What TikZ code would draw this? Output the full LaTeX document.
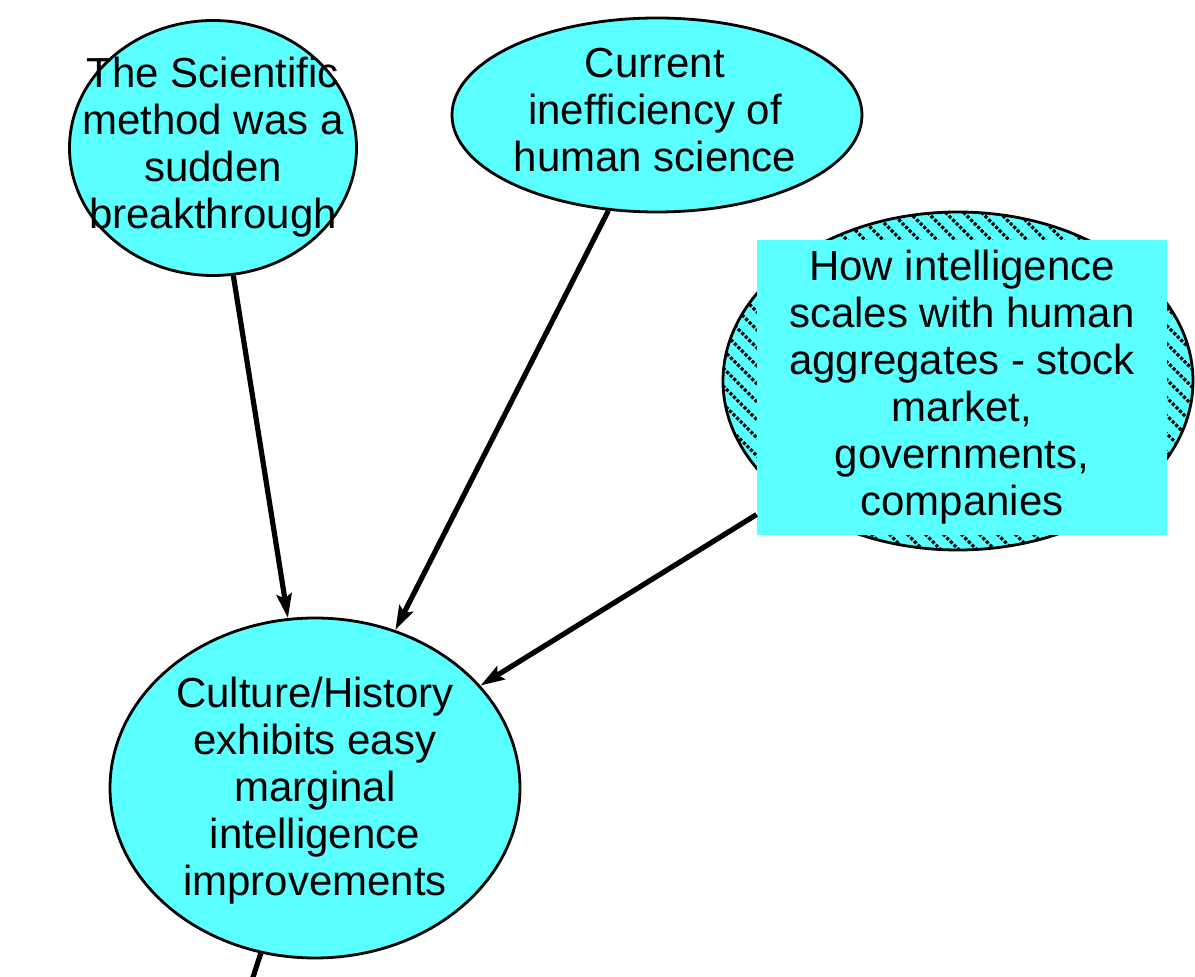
\documentclass[tikz,border=0pt]{standalone}
\usepackage{fontspec}
\setmainfont{Liberation Sans}
\usepackage{xcolor}
\usepackage{tikz}
\usetikzlibrary{shapes.geometric,arrows.meta}

\definecolor{blobcyan}{RGB}{90,255,255}

\begin{document}
\begin{tikzpicture}[x=0.5pt, y=-0.5pt, > = {Stealth[length=12pt, width=7.5pt, inset=2pt]},
  blob/.style = {ellipse, draw, line width=1.4pt, fill=blobcyan, inner sep=0pt},
  txt/.style = {align=center, font=\fontsize{21}{23.5}\selectfont},
  link/.style = {->, line width=2.6pt},
  hatch/.style = {line width=1.6pt, dash pattern=on 1.6pt off 0.9pt}]
\clip (0,0) rectangle (1195,977);

\node (sci) [blob, minimum width=143.5pt, minimum height=127.5pt] at (213,148) {};
\node (scitext) [txt] at (213,147) {The Scientific\\method was a\\sudden\\breakthrough};

\node (cur) [blob, minimum width=205pt, minimum height=97pt] at (657,115) {};
\node (curtext) [txt] at (655,110) {Current\\inefficiency of\\human science};

\node (hum) [blob, minimum width=235pt, minimum height=169pt,
  path picture={\foreach \c in {-255,-246,...,255}
    \draw[hatch] ([xshift=\c pt]path picture bounding box.center) ++(-125pt,125pt) -- ++(250pt,-250pt);}] at (958,381) {};
\node (humbox) [txt, fill=blobcyan, minimum width=205pt, minimum height=147.5pt, inner sep=0pt] at (962,387.5)
  {How intelligence\\scales with human\\aggregates - stock\\market,\\governments,\\companies};

\node (cul) [blob, minimum width=205pt, minimum height=170pt] at (315,788) {};
\node (cultext) [txt] at (315,791) {Culture/History\\exhibits easy\\marginal\\intelligence\\improvements};

\coordinate (next) at (216,1090);

\draw[link] (sci) to (cul);
\draw[link] (cur) to (cul);
\draw[link] (humbox) to (cul);
\draw[link] (cul) to (next);
\end{tikzpicture}
\end{document}
